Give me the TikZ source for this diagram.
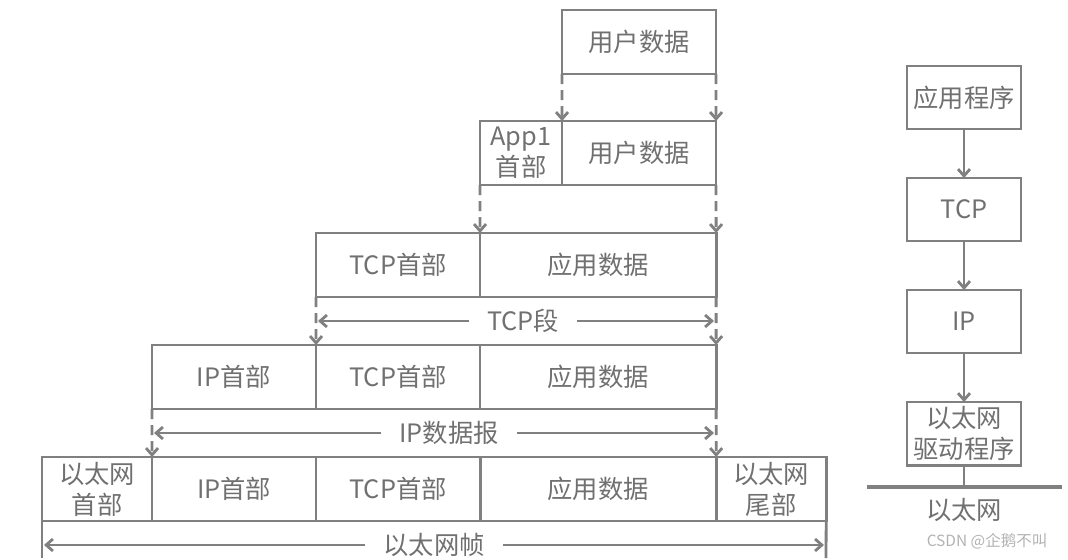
\documentclass[tikz,border=0pt]{standalone}
\usepackage{fontspec}
\setmainfont{Noto Sans CJK SC}
\usetikzlibrary{arrows.meta,positioning}
\definecolor{linegray}{RGB}{128,128,128}
\definecolor{textgray}{RGB}{112,112,112}
\newcommand{\labelfont}{\fontsize{18}{22}\selectfont}
\tikzset
{
    field/.style    = {draw=linegray, line width=2pt, minimum height=1.6cm, inner sep=0pt, outer sep=0pt, text=textgray, align=center, anchor=north west, font=\labelfont},
    layer/.style    = {draw=linegray, line width=2pt, minimum width=2.85cm, minimum height=1.575cm, inner sep=0pt, outer sep=0pt, text=textgray, align=center, font=\labelfont},
    dashdown/.style = {draw=linegray, line width=2pt, dash pattern=on 0.25cm off 0.15cm, ->},
    lenarrow/.style = {draw=linegray, line width=2pt, ->},
    lenlabel/.style = {text=textgray, inner xsep=0.45cm, inner ysep=0pt, font=\labelfont},
    flow/.style     = {draw=linegray, line width=2pt, ->},
    plain/.style    = {draw=linegray, line width=2pt},
    bus/.style      = {draw=linegray, line width=3.2pt}
}

\begin{document}
\begin{tikzpicture}[x=0.025cm, y=-0.025cm, >={Straight Barb[length=0.17cm, width=0.3cm]}]
    \useasboundingbox (0,0) rectangle (1068,560);

    \node [field, minimum width=3.85cm] (user1) at (562,10) {用户数据};

    \node [field, minimum width=2.05cm] (apphdr2) at (480,121) {App1\\首部};
    \node [field, minimum width=3.85cm, right=0pt of apphdr2] (user2) {用户数据};

    \node [field, minimum width=4.1cm] (tcphdr3) at (316,233) {TCP首部};
    \node [field, minimum width=5.9cm, right=0pt of tcphdr3] (appdata3) {应用数据};

    \node [field, minimum width=4.1cm] (iphdr4) at (152,345) {IP首部};
    \node [field, minimum width=4.1cm, right=0pt of iphdr4] (tcphdr4) {TCP首部};
    \node [field, minimum width=5.9cm, right=0pt of tcphdr4] (appdata4) {应用数据};

    \node [field, minimum width=2.75cm] (ethhdr5) at (42,457) {以太网\\首部};
    \node [field, minimum width=4.1cm, right=0pt of ethhdr5] (iphdr5) {IP首部};
    \node [field, minimum width=4.1cm, right=0pt of iphdr5] (tcphdr5) {TCP首部};
    \node [field, minimum width=5.9cm, right=0pt of tcphdr5] (appdata5) {应用数据};
    \node [field, minimum width=2.75cm, right=0pt of appdata5] (ethtrl5) {以太网\\尾部};

    \draw [dashdown] (user1.south west) -- (user2.north west);
    \draw [dashdown] (user1.south east) -- (user2.north east);
    \draw [dashdown] (apphdr2.south west) -- (appdata3.north west);
    \draw [dashdown] (user2.south east) -- (appdata3.north east);
    \draw [dashdown] (tcphdr3.south west) -- (tcphdr4.north west);
    \draw [dashdown] (appdata3.south east) -- (appdata4.north east);
    \draw [dashdown] (iphdr4.south west) -- (iphdr5.north west);
    \draw [dashdown] (appdata4.south east) -- (appdata5.north east);

    \node [lenlabel] (tcpseg) at (523,321) {TCP段};
    \coordinate (tcpsegL) at (318,321);
    \coordinate (tcpsegR) at (714,321);
    \draw [lenarrow] (tcpseg) -- (tcpsegL);
    \draw [lenarrow] (tcpseg) -- (tcpsegR);

    \node [lenlabel] (ipdgram) at (449,433) {IP数据报};
    \coordinate (ipdgramL) at (154,433);
    \coordinate (ipdgramR) at (714,433);
    \draw [lenarrow] (ipdgram) -- (ipdgramL);
    \draw [lenarrow] (ipdgram) -- (ipdgramR);

    \coordinate (frameBL) at (42,558);
    \coordinate (frameBR) at (826,558);
    \draw [plain] (ethhdr5.south west) -- (frameBL);
    \draw [plain] (ethtrl5.south east) -- (frameBR);
    \node [lenlabel] (ethframe) at (434,545) {以太网帧};
    \coordinate (ethframeL) at (44,545);
    \coordinate (ethframeR) at (824,545);
    \draw [lenarrow] (ethframe) -- (ethframeL);
    \draw [lenarrow] (ethframe) -- (ethframeR);

    \node [layer] (app) at (964,97.5) {应用程序};
    \node [layer, below=1.225cm of app] (tcp) {TCP};
    \node [layer, below=1.225cm of tcp] (ip) {IP};
    \node [layer, below=1.225cm of ip] (ethdrv) {以太网\\驱动程序};
    \draw [flow] (app) -- (tcp);
    \draw [flow] (tcp) -- (ip);
    \draw [flow] (ip) -- (ethdrv);

    \coordinate (busL) at (867,487);
    \coordinate (busT) at (964,487);
    \coordinate (busR) at (1062,487);
    \draw [bus] (busL) -- (busR);
    \draw [plain] (ethdrv) -- (busT);
    \node [text=textgray, font=\labelfont] (ethnet) at (964,510) {以太网};

    \node [text=gray!60, font=\fontsize{11}{13}\selectfont] (mark) at (987,541) {CSDN @企鹅不叫};
\end{tikzpicture}
\end{document}
